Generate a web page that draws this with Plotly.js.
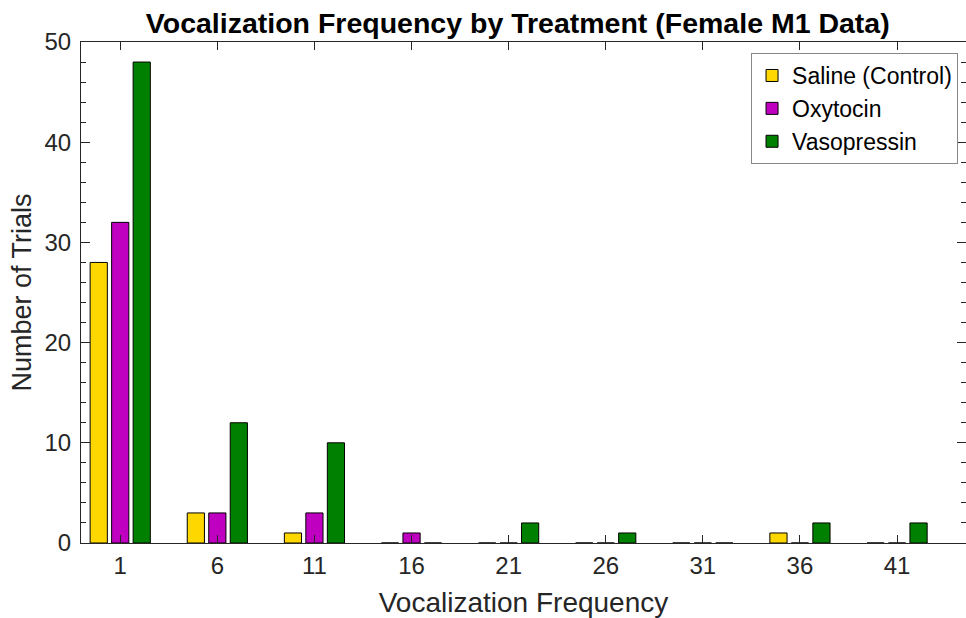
<!DOCTYPE html>
<html>
<head>
<meta charset="utf-8">
<script src="https://cdn.plot.ly/plotly-3.0.1.min.js"></script>
<style>html,body{margin:0;padding:0;background:#fff;}#chart{width:966px;height:618px;}</style>
</head>
<body>
<div id="chart"></div>
<script>
const categories = [1, 6, 11, 16, 21, 26, 31, 36, 41];
const saline = [28, 3, 1, 0, 0, 0, 0, 1, 0];
const oxytocin = [32, 3, 3, 1, 0, 0, 0, 0, 0];
const vasopressin = [48, 12, 10, 0, 2, 1, 0, 2, 2];
const seriesNames = ['Saline (Control)', 'Oxytocin', 'Vasopressin'];
const seriesColors = ['#FFD700', '#C000C0', '#008000'];
const seriesValues = [saline, oxytocin, vasopressin];

const FONT = 'Liberation Sans, Arial, Helvetica, sans-serif';
const AX = '#262626';

const traces = seriesValues.map((vals, i) => ({
  type: 'bar',
  x: categories,
  y: vals,
  name: seriesNames[i],
  marker: {color: seriesColors[i], line: {color: '#000', width: 1}},
  hoverinfo: 'x+y+name'
}));

const layout = {
  width: 966, height: 618,
  margin: {l: 81, r: 0, t: 42, b: 75, pad: 0},
  paper_bgcolor: '#fff', plot_bgcolor: '#fff',
  barmode: 'group', bargap: 0.336, bargroupgap: 0.2,
  font: {family: FONT, color: AX},
  title: {
    text: '<b>Vocalization Frequency by Treatment (Female M1 Data)</b>',
    font: {family: FONT, size: 28.5, color: '#000'},
    x: 0.536, xanchor: 'center', y: 0.962, yanchor: 'middle'
  },
  xaxis: {
    range: [-1.02, 44.55],
    tickmode: 'array', tickvals: categories, ticktext: categories.map(String),
    ticks: 'inside', ticklen: 8, tickcolor: AX, tickwidth: 1,
    showline: true, linecolor: AX, linewidth: 1, mirror: 'ticks',
    showgrid: false, zeroline: false, ticklabelstandoff: 1,
    tickfont: {family: FONT, size: 24, color: AX},
    title: {text: 'Vocalization Frequency', font: {family: FONT, size: 28, color: AX}, standoff: 14}
  },
  yaxis: {
    range: [0, 50],
    tickmode: 'linear', tick0: 0, dtick: 10,
    ticks: 'inside', ticklen: 9, tickcolor: AX, tickwidth: 1,
    minor: {dtick: 2, ticks: 'inside', ticklen: 5, tickcolor: AX, showgrid: false},
    showline: true, linecolor: AX, linewidth: 1, mirror: 'ticks',
    showgrid: false, zeroline: false, ticklabelstandoff: 4,
    tickfont: {family: FONT, size: 24, color: AX},
    title: {text: 'Number of Trials', font: {family: FONT, size: 27, color: AX}, standoff: 5}
  },
  showlegend: true,
  legend: {
    x: 0.991, xanchor: 'right', y: 0.978, yanchor: 'top',
    bgcolor: '#fff', bordercolor: '#888', borderwidth: 1,
    font: {family: FONT, size: 23, color: '#000'},
    itemwidth: 30, tracegroupgap: 0
  }
};

Plotly.newPlot('chart', traces, layout, {displayModeBar: false, staticPlot: true});
</script>
</body>
</html>
